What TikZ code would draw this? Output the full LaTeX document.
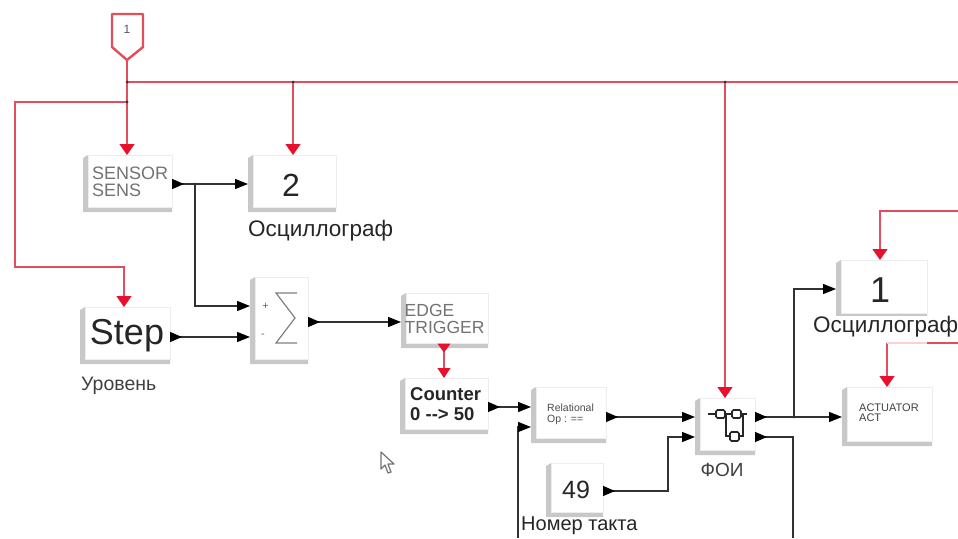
\documentclass[tikz,border=0pt]{standalone}
\usepackage{fontspec}
\setmainfont{Liberation Sans}
\usetikzlibrary{arrows.meta,calc}
\definecolor{redw}{RGB}{228,78,92}
\definecolor{redt}{RGB}{232,16,44}
\definecolor{wire}{RGB}{50,50,50}
\definecolor{blockgray}{RGB}{200,200,200}
\definecolor{hershey}{RGB}{115,115,115}
\tikzset{
  face/.style={fill=white,draw=white!93!black,line width=.5pt,inner sep=0pt,anchor=north west,align=left},
  sig/.style={draw=wire,line width=1.2pt,{Triangle[reversed,length=12pt,width=10pt,color=black]}-{Triangle[length=13pt,width=10pt,color=black]}},
  sigin/.style={draw=wire,line width=1.2pt,-{Triangle[length=13pt,width=10pt,color=black]}},
  sigout/.style={draw=wire,line width=1.2pt,{Triangle[reversed,length=12pt,width=10pt,color=black]}-},
  ev/.style={draw=redw,line width=1.2pt,-{Triangle[length=11pt,width=15pt,color=redt]}},
  evp/.style={draw=redw,line width=1.2pt},
  jb/.style={fill=wire,circle,inner sep=0pt,minimum size=3pt},
  lbl/.style={inner sep=0pt,text=black!85},
  hers/.style={text=hershey,inner sep=0pt,anchor=west,align=left},
}
% name, x0, y0, x1, y1 : shadowed block
\newcommand{\blk}[6][]{%
  \fill[blockgray] (#3,#4+3) -- (#3+5,#4) -- (#5,#4) -- (#5,#6) -- (#3,#6) -- cycle;
  \pgfmathsetmacro{\bw}{#5-#3-5}\pgfmathsetmacro{\bh}{#6-#4-5}
  \node[face,minimum width=\bw pt,minimum height=\bh pt,#1] (#2) at (#3+5,#4) {};
}
\begin{document}
\begin{tikzpicture}[x=1pt,y=-1pt]
\useasboundingbox (0,0) rectangle (958,538);
\fill[white] (0,0) rectangle (958,538);

% blocks
\blk{sensor}{83}{155}{172}{212}
\blk{oscb}{248}{155}{336}{212}
\blk{step}{80}{307}{170}{364}
\blk{sum}{250}{277}{308}{364}
\blk{edge}{401}{293}{488}{348}
\blk{counter}{400}{378}{488}{434}
\blk{relop}{531}{387}{606}{443}
\blk{cst}{546}{463}{603}{517}
\blk{foi}{695}{398}{755}{455}
\blk{osca}{836}{260}{927}{318}
\blk{act}{842}{387}{932}{446}

% block texts
\node[hers,font=\fontsize{18}{16}\selectfont] at (92,181.5) {SENSOR\\[1pt]SENS};
\node[lbl,font=\fontsize{32}{32}\selectfont] at (291,185) {2};
\node[lbl,font=\fontsize{36}{36}\selectfont] at (127,336) {Step};
\node[hers,font=\fontsize{17.5}{15.5}\selectfont] at (404.5,319) {EDGE\\[1pt]TRIGGER};
\node[inner sep=0pt,anchor=west,align=left,text=black!85,font=\bfseries\fontsize{18.5}{20}\selectfont] at (410,404.5) {Counter\\0 {-}{-}> 50};
\node[inner sep=0pt,anchor=west,align=left,text=black!70,font=\fontsize{10.5}{11}\selectfont] at (547,414) {Relational\\Op : ==};
\node[lbl,font=\fontsize{25}{25}\selectfont] at (576,490) {49};
\node[lbl,font=\fontsize{36}{36}\selectfont] at (880,290) {1};
\node[inner sep=0pt,anchor=west,align=left,text=black!75,font=\fontsize{11}{10}\selectfont] at (859,413) {ACTUATOR\\ACT};

% sum icon
\draw[black!50,line width=1.2pt] (297,293) -- (276,293) -- (295,318) -- (276,343) -- (297,343);
\node[inner sep=0pt,text=black!60,font=\fontsize{11}{11}\selectfont] at (265.5,306) {+};
\node[inner sep=0pt,text=black!60,font=\fontsize{11}{11}\selectfont] at (263,336) {-};

% FOI icon
\draw[black!85,line width=1.6pt]
  (708,414) -- (716,414) (725,414) -- (732,414) (741,414) -- (747,414)
  (726,414) -- (726,436) -- (730,436)
  (743,414) -- (743,436) -- (739,436);
\draw[black!85,line width=1.6pt,rounded corners=1.5pt]
  (716,410) rectangle (725,418) (732,410) rectangle (741,418)
  (730,432) rectangle (739,441);

% red network
\coordinate (tagtip) at (127,60);
\draw[redw,line width=2.4pt,fill=white,line join=round] (112,14) -- (143,14) -- (143,47) -- (tagtip) -- (112,47) -- cycle;
\node[inner sep=0pt,text=black!65,font=\fontsize{12}{12}\selectfont] (tag) at (127,29) {1};

\coordinate (j1) at (127,82);
\coordinate (j2) at (127,102);
\coordinate (j3) at (293,82);
\coordinate (j4) at (725,82);
\coordinate (eR) at (958,82);
\draw[ev] (tagtip) -- (sensor.north -| j1);
\draw[evp] (j1) -- (eR);
\draw[ev] (j3) -- (j3 |- oscb.north);
\draw[ev] (j4) -- (j4 |- foi.north);
\coordinate (stepin) at (124,307);
\draw[ev] (j2) -| (15,267) -| (stepin);
\coordinate (r1) at (958,211);
\coordinate (o1in) at (880,260);
\draw[ev] (r1) -| (o1in);
\coordinate (r2) at (958,343);
\coordinate (ain) at (887,387);
\coordinate (ac) at (887,343);
\coordinate (ac2) at (927,343);
\draw[ev] (ac) -- (ain);
\draw[evp,redw!25] (ac) -- (ac2);
\draw[evp] (ac2) -- (r2);
\draw[draw=redw,line width=1.2pt,{Triangle[reversed,length=9pt,width=13pt,color=redt]}-{Triangle[length=10pt,width=13pt,color=redt]}] (edge.south -| 444,348) -- (counter.north -| 444,378);

% labels over wires
\node[lbl,font=\fontsize{22.5}{22.5}\selectfont,anchor=west] at (248,231) {Осциллограф};
\node[lbl,font=\fontsize{22.5}{22.5}\selectfont,anchor=west,fill=white,inner ysep=1pt] at (813,327) {Осциллограф};
\node[lbl,font=\fontsize{19.5}{19.5}\selectfont,anchor=west,text=black!75] at (81,386) {Уровень};
\node[lbl,font=\fontsize{19}{19}\selectfont,text=black!75] at (722,470) {ФОИ};

% black wires
\coordinate (j5) at (195,184);
\coordinate (j6) at (794,417);
\coordinate (sumA) at (250,306);
\coordinate (sumB) at (250,337);
\coordinate (cntOut) at (488,407);
\coordinate (relA) at (531,407);
\coordinate (relB) at (531,427);
\coordinate (relOut) at (606,417);
\coordinate (foiA) at (695,417);
\coordinate (foiB) at (695,437);
\coordinate (foiOutA) at (755,417);
\coordinate (foiOutB) at (755,437);
\coordinate (cstOut) at (603,491);
\coordinate (botL) at (518,538);
\coordinate (botR) at (793,538);
\coordinate (oscIn) at (836,289);
\coordinate (actIn) at (842,417);

\draw[sig] (172,184) -- (248,184);
\draw[sigin] (j5) |- (sumA);
\draw[sig] (170,337) -- (sumB);
\draw[sig] (308,322) -- (401,322);
\draw[sig] (cntOut) -- (relA);
\draw[sigin] (botL) |- (relB);
\draw[sig] (relOut) -- (foiA);
\draw[sig] (cstOut) -| (668,437) -- (foiB);
\draw[sig] (foiOutA) -- (actIn);
\draw[sigin] (j6) |- (oscIn);
\draw[sigout] (foiOutB) -| (botR);

\node[lbl,font=\fontsize{20}{20}\selectfont,anchor=west] at (521,526) {Номер такта};

% junction dots
\foreach \p in {j1,j2,j3,j4,j5,j6} \node[jb] at (\p) {};

% mouse cursor
\draw[black!55,fill=white,line width=1.2pt,line join=round] (381,452) -- (381,469) -- (385,465) -- (388,473) -- (391,472) -- (388,464) -- (394,464) -- cycle;
\end{tikzpicture}
\end{document}
